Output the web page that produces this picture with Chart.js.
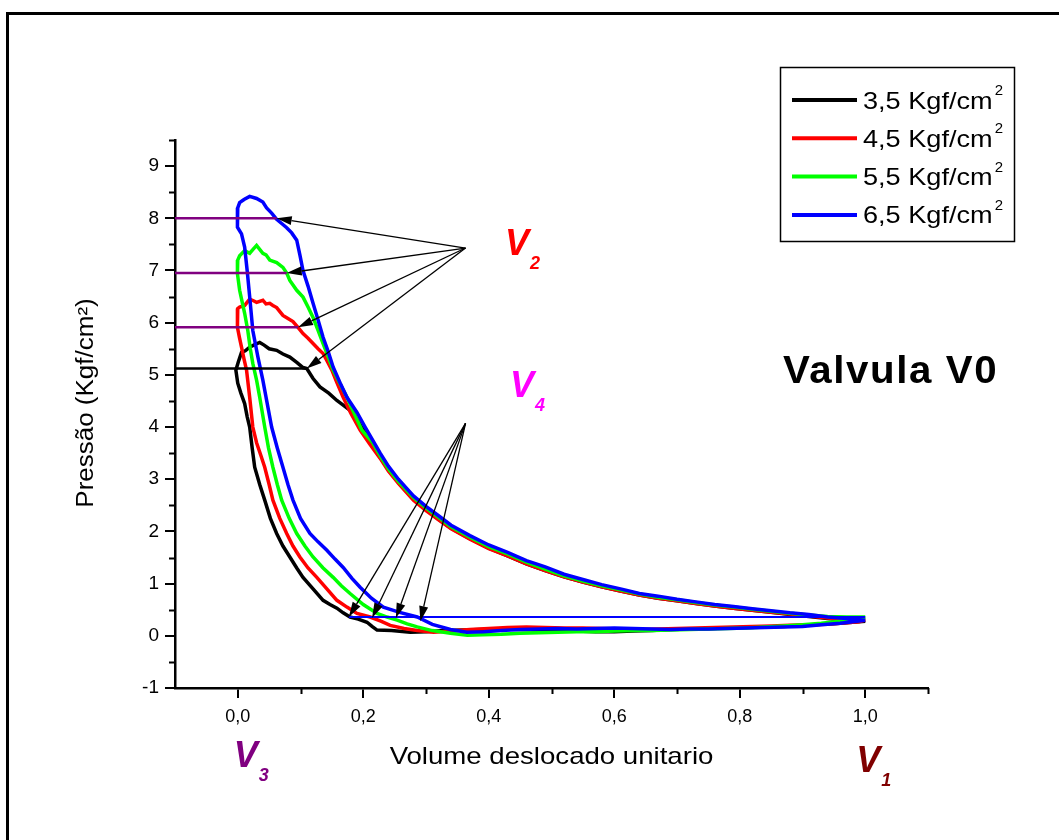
<!DOCTYPE html>
<html>
<head>
<meta charset="utf-8">
<title>Valvula V0</title>
<script src="https://cdn.jsdelivr.net/npm/chart.js@4.4.1/dist/chart.umd.min.js"></script>
<style>
  html, body { margin: 0; padding: 0; background: #fff; }
  #wrap { width: 1059px; height: 840px; }
</style>
</head>
<body>
<div id="wrap"><canvas id="pv" width="1059" height="840"></canvas></div>
<script>
// pressões de descarga ensaiadas
const pressures = ['3,5', '4,5', '5,5', '6,5'];
const colors = ['#000000', '#ff0000', '#00ff00', '#0000ff'];

// ciclos p x V medidos (volume unitario, Kgf/cm2), V1 -> compressão -> descarga -> expansão -> admissão
const loop35 = [[1.0,0.28],[0.97,0.30],[0.94,0.33],[0.91,0.37],[0.88,0.41],[0.85,0.45],[0.82,0.49],[0.79,0.53],[0.76,0.57],[0.73,0.62],[0.70,0.67],[0.67,0.72],[0.64,0.78],[0.61,0.86],[0.58,0.94],[0.55,1.03],[0.52,1.13],[0.49,1.25],[0.46,1.38],[0.43,1.53],[0.40,1.68],[0.37,1.86],[0.34,2.06],[0.32,2.23],[0.30,2.42],[0.28,2.62],[0.256,2.94],[0.24,3.18],[0.227,3.42],[0.215,3.65],[0.2,3.95],[0.19,4.15],[0.179,4.32],[0.168,4.42],[0.158,4.51],[0.145,4.65],[0.131,4.77],[0.12,4.93],[0.11,5.12],[0.104,5.14],[0.094,5.24],[0.083,5.34],[0.072,5.4],[0.062,5.47],[0.05,5.5],[0.042,5.57],[0.035,5.62],[0.027,5.58],[0.019,5.53],[0.012,5.46],[0.006,5.43],[0.001,5.25],[-0.003,5.09],[0.0,4.84],[0.005,4.65],[0.011,4.45],[0.015,4.2],[0.019,4.0],[0.023,3.6],[0.027,3.23],[0.035,2.9],[0.043,2.6],[0.052,2.25],[0.062,1.96],[0.072,1.72],[0.083,1.51],[0.094,1.3],[0.104,1.12],[0.12,0.9],[0.136,0.68],[0.147,0.6],[0.158,0.53],[0.168,0.44],[0.179,0.36],[0.192,0.32],[0.206,0.26],[0.214,0.18],[0.222,0.11],[0.245,0.1],[0.275,0.07],[0.3,0.08],[0.33,0.1],[0.36,0.11],[0.39,0.12],[0.42,0.13],[0.45,0.12],[0.48,0.11],[0.51,0.1],[0.54,0.09],[0.57,0.08],[0.6,0.08],[0.63,0.09],[0.66,0.1],[0.69,0.12],[0.72,0.13],[0.75,0.14],[0.78,0.15],[0.81,0.16],[0.84,0.17],[0.87,0.18],[0.9,0.2],[0.93,0.22],[0.96,0.24],[0.98,0.26],[1.0,0.28]];

const loop45 = [[1.0,0.30],[0.97,0.31],[0.94,0.34],[0.91,0.38],[0.88,0.42],[0.85,0.45],[0.82,0.49],[0.79,0.53],[0.76,0.57],[0.73,0.62],[0.70,0.67],[0.67,0.72],[0.64,0.78],[0.61,0.86],[0.58,0.94],[0.55,1.03],[0.52,1.13],[0.49,1.25],[0.46,1.38],[0.43,1.53],[0.40,1.67],[0.37,1.85],[0.34,2.05],[0.32,2.22],[0.30,2.40],[0.28,2.6],[0.256,2.92],[0.24,3.16],[0.227,3.4],[0.21,3.68],[0.195,3.94],[0.18,4.27],[0.168,4.57],[0.158,4.85],[0.15,5.09],[0.143,5.25],[0.136,5.41],[0.128,5.5],[0.12,5.6],[0.112,5.7],[0.104,5.79],[0.096,5.91],[0.088,6.02],[0.08,6.08],[0.072,6.14],[0.062,6.29],[0.056,6.33],[0.051,6.37],[0.045,6.36],[0.04,6.43],[0.03,6.39],[0.025,6.42],[0.019,6.45],[0.011,6.33],[0.003,6.3],[0.0,6.27],[-0.001,6.1],[0.0,5.91],[0.003,5.7],[0.006,5.53],[0.01,5.3],[0.014,5.09],[0.019,4.57],[0.024,4.0],[0.03,3.7],[0.037,3.45],[0.043,3.23],[0.05,2.9],[0.056,2.6],[0.067,2.25],[0.078,1.96],[0.088,1.72],[0.099,1.51],[0.112,1.3],[0.126,1.12],[0.142,0.9],[0.158,0.68],[0.174,0.55],[0.19,0.43],[0.211,0.36],[0.228,0.28],[0.243,0.2],[0.265,0.14],[0.286,0.1],[0.312,0.07],[0.34,0.09],[0.37,0.12],[0.4,0.14],[0.43,0.16],[0.46,0.17],[0.49,0.16],[0.52,0.15],[0.55,0.15],[0.58,0.14],[0.61,0.13],[0.64,0.12],[0.67,0.13],[0.7,0.14],[0.73,0.15],[0.76,0.16],[0.79,0.17],[0.82,0.18],[0.85,0.19],[0.88,0.2],[0.91,0.21],[0.94,0.22],[0.97,0.25],[0.99,0.27],[1.0,0.30]];

const loop55 = [[1.0,0.36],[0.97,0.36],[0.94,0.37],[0.91,0.40],[0.88,0.43],[0.85,0.47],[0.82,0.51],[0.79,0.55],[0.76,0.59],[0.73,0.64],[0.70,0.69],[0.67,0.74],[0.64,0.80],[0.61,0.88],[0.58,0.96],[0.55,1.05],[0.52,1.15],[0.49,1.28],[0.46,1.41],[0.43,1.57],[0.40,1.71],[0.37,1.89],[0.34,2.09],[0.32,2.27],[0.30,2.45],[0.28,2.65],[0.256,2.96],[0.24,3.2],[0.227,3.45],[0.215,3.7],[0.198,3.94],[0.186,4.25],[0.174,4.57],[0.163,4.83],[0.152,5.09],[0.144,5.35],[0.136,5.6],[0.128,5.85],[0.12,6.1],[0.112,6.3],[0.104,6.49],[0.094,6.62],[0.083,6.81],[0.078,6.95],[0.072,7.06],[0.062,7.15],[0.051,7.2],[0.045,7.3],[0.04,7.33],[0.03,7.48],[0.024,7.4],[0.019,7.33],[0.011,7.38],[0.003,7.28],[0.0,7.2],[-0.001,7.05],[0.0,6.94],[0.003,6.62],[0.007,6.4],[0.011,6.18],[0.016,5.85],[0.02,5.5],[0.024,5.22],[0.03,4.9],[0.035,4.57],[0.043,4.0],[0.049,3.6],[0.056,3.23],[0.063,2.9],[0.07,2.6],[0.082,2.25],[0.094,1.96],[0.107,1.72],[0.12,1.51],[0.136,1.3],[0.152,1.12],[0.165,0.96],[0.179,0.81],[0.2,0.6],[0.222,0.43],[0.238,0.36],[0.254,0.3],[0.27,0.23],[0.286,0.17],[0.31,0.1],[0.339,0.05],[0.366,0.01],[0.39,0.02],[0.42,0.03],[0.45,0.05],[0.48,0.06],[0.51,0.07],[0.54,0.08],[0.57,0.08],[0.6,0.09],[0.63,0.1],[0.66,0.1],[0.69,0.11],[0.72,0.12],[0.75,0.13],[0.78,0.14],[0.81,0.15],[0.84,0.17],[0.87,0.19],[0.9,0.21],[0.93,0.24],[0.96,0.28],[0.98,0.31],[1.0,0.36]];

const loop65 = [[1.0,0.30],[0.97,0.33],[0.94,0.36],[0.91,0.41],[0.88,0.44],[0.85,0.48],[0.82,0.52],[0.79,0.56],[0.76,0.60],[0.73,0.65],[0.70,0.70],[0.67,0.76],[0.64,0.81],[0.61,0.90],[0.58,0.98],[0.55,1.08],[0.52,1.18],[0.49,1.32],[0.46,1.44],[0.43,1.60],[0.40,1.74],[0.37,1.92],[0.34,2.12],[0.32,2.30],[0.30,2.48],[0.28,2.68],[0.256,3.0],[0.24,3.25],[0.227,3.5],[0.215,3.75],[0.203,4.0],[0.19,4.28],[0.174,4.57],[0.163,4.85],[0.152,5.15],[0.144,5.45],[0.136,5.72],[0.128,6.05],[0.12,6.37],[0.112,6.7],[0.104,7.0],[0.099,7.3],[0.094,7.58],[0.086,7.72],[0.078,7.82],[0.07,7.9],[0.062,7.98],[0.054,8.1],[0.046,8.2],[0.04,8.31],[0.03,8.38],[0.019,8.42],[0.01,8.36],[0.003,8.3],[0.0,8.2],[-0.001,8.0],[0.0,7.83],[0.006,7.7],[0.011,7.45],[0.015,7.0],[0.019,6.5],[0.024,5.85],[0.032,5.35],[0.04,4.9],[0.047,4.45],[0.054,4.0],[0.063,3.6],[0.072,3.23],[0.08,2.9],[0.088,2.6],[0.1,2.25],[0.115,1.96],[0.128,1.8],[0.142,1.64],[0.155,1.47],[0.168,1.31],[0.182,1.1],[0.195,0.93],[0.213,0.72],[0.232,0.55],[0.258,0.45],[0.286,0.36],[0.31,0.22],[0.339,0.12],[0.365,0.07],[0.392,0.08],[0.42,0.1],[0.45,0.12],[0.48,0.13],[0.51,0.14],[0.54,0.13],[0.57,0.14],[0.6,0.15],[0.63,0.14],[0.66,0.13],[0.69,0.12],[0.72,0.13],[0.75,0.13],[0.78,0.14],[0.81,0.15],[0.84,0.16],[0.87,0.17],[0.9,0.18],[0.93,0.21],[0.96,0.24],[0.98,0.27],[1.0,0.30]];

const loops = [loop35, loop45, loop55, loop65];

// eixos
const xTicks = [0, 0.2, 0.4, 0.6, 0.8, 1.0];
const xMinor = [0.1, 0.3, 0.5, 0.7, 0.9, 1.1];
const yTicks = [-1, 0, 1, 2, 3, 4, 5, 6, 7, 8, 9];
const yMinor = [-0.5, 0.5, 1.5, 2.5, 3.5, 4.5, 5.5, 6.5, 7.5, 8.5, 9.5];

// pontos V2 (abertura da descarga) e V4 (abertura da admissão) de cada ciclo
const v2X = [0.11, 0.096, 0.078, 0.062];
const v2P = [5.12, 5.91, 6.95, 8.0];
const v4X = [0.177, 0.214, 0.252, 0.291];
const v4P = [0.36, 0.34, 0.34, 0.28];
// pressão de admissão
const suctionP = 0.36;

const FONT = "'Liberation Sans', Arial, Helvetica, sans-serif";
Chart.defaults.color = '#000';
Chart.defaults.font.family = FONT;

const datasets = loops.map((pts, i) => ({
    label: pressures[i] + ' Kgf/cm²',
    unit: pressures[i],
    data: pts.map(([x, y]) => ({x, y})),
    borderColor: colors[i],
    borderWidth: 3.5,
    showLine: true,
    pointRadius: 0,
    tension: 0,
    order: 10 - i // azul por cima
}));

// linhas horizontais em V2
v2X.forEach((x, i) => {
    datasets.push({
        label: '',
        guide: true,
        data: [{x: -0.1, y: v2P[i]}, {x: x, y: v2P[i]}],
        borderColor: i === 0 ? '#000000' : '#800080',
        borderWidth: 2.5,
        showLine: true,
        pointRadius: 0,
        order: 0
    });
});
// linha de admissão a partir do V4
datasets.push({
    label: '',
    guide: true,
    data: [{x: v4X[0], y: suctionP}, {x: 1.0, y: suctionP}],
    borderColor: '#0000ff',
    borderWidth: 2,
    showLine: true,
    pointRadius: 0,
    order: 0
});

function drawArrow(ctx, x0, y0, x1, y1) {
    const a = Math.atan2(y1 - y0, x1 - x0);
    const len = 15, half = 4.5;
    const bx = x1 - len * Math.cos(a), by = y1 - len * Math.sin(a);
    ctx.beginPath();
    ctx.moveTo(x0, y0);
    ctx.lineTo(bx, by);
    ctx.stroke();
    ctx.beginPath();
    ctx.moveTo(x1, y1);
    ctx.lineTo(bx + half * Math.sin(a), by - half * Math.cos(a));
    ctx.lineTo(bx - half * Math.sin(a), by + half * Math.cos(a));
    ctx.closePath();
    ctx.fill();
}

// texto levemente alargado na horizontal; devolve a largura final
function wideText(ctx, text, x, y, sx, align) {
    const w = ctx.measureText(text).width * sx;
    const left = align === 'center' ? x - w / 2 : x;
    ctx.save();
    ctx.translate(left, y);
    ctx.scale(sx, 1);
    ctx.textAlign = 'left';
    ctx.fillText(text, 0, 0);
    ctx.restore();
    return w;
}

// V com índice
function withIndex(ctx, main, idx, x, y, size, color, drop) {
    ctx.fillStyle = color;
    ctx.font = `italic bold ${size}px ${FONT}`;
    ctx.fillText(main, x, y);
    const w = ctx.measureText(main).width;
    ctx.font = `italic bold ${Math.round(size * 0.5)}px ${FONT}`;
    ctx.fillText(idx, x + w + 1, y + drop);
}

const decor = {
    id: 'decor',
    beforeDraw(chart) {
        const ctx = chart.ctx;
        ctx.save();
        ctx.fillStyle = '#fff';
        ctx.fillRect(0, 0, chart.width, chart.height);
        // moldura
        ctx.strokeStyle = '#000';
        ctx.lineWidth = 3;
        ctx.beginPath();
        ctx.moveTo(7.5, chart.height);
        ctx.lineTo(7.5, 13.5);
        ctx.lineTo(chart.width, 13.5);
        ctx.stroke();
        ctx.restore();
    },
    afterDraw(chart) {
        const ctx = chart.ctx;
        const xs = chart.scales.x, ys = chart.scales.y;
        const area = chart.chartArea;
        ctx.save();

        // marcas secundárias
        ctx.strokeStyle = '#000';
        ctx.lineWidth = 2;
        ctx.beginPath();
        xMinor.forEach(v => {
            const px = Math.round(xs.getPixelForValue(v)) + 0.5;
            ctx.moveTo(px, area.bottom);
            ctx.lineTo(px, area.bottom + 6);
        });
        yMinor.forEach(v => {
            const py = Math.round(ys.getPixelForValue(v)) + 0.5;
            ctx.moveTo(area.left, py);
            ctx.lineTo(area.left - 6, py);
        });
        ctx.stroke();

        // títulos dos eixos
        ctx.fillStyle = '#000';
        ctx.textBaseline = 'middle';
        ctx.font = `24px ${FONT}`;
        wideText(ctx, 'Volume deslocado unitario', (area.left + area.right) / 2, 757, 1.15, 'center');
        ctx.save();
        ctx.translate(87, 403);
        ctx.rotate(-Math.PI / 2);
        ctx.font = `23px ${FONT}`;
        wideText(ctx, 'Pressão (Kgf/cm²)', 0, 0, 1.13, 'center');
        ctx.restore();
        ctx.textBaseline = 'alphabetic';

        // setas para V2 e V4
        ctx.lineWidth = 1.3;
        ctx.fillStyle = '#000';
        const o2 = {x: xs.getPixelForValue(0.363), y: ys.getPixelForValue(7.43)};
        const o4 = {x: xs.getPixelForValue(0.363), y: ys.getPixelForValue(4.07)};
        v2X.forEach((x, i) => drawArrow(ctx, o2.x, o2.y, xs.getPixelForValue(x), ys.getPixelForValue(v2P[i])));
        v4X.forEach((x, i) => drawArrow(ctx, o4.x, o4.y, xs.getPixelForValue(x), ys.getPixelForValue(v4P[i])));

        // legenda
        ctx.lineWidth = 1.5;
        ctx.strokeRect(780.5, 67.5, 234, 174);
        chart.data.datasets.filter(d => !d.guide).forEach((d, i) => {
            const y = 100 + i * 38.3;
            ctx.strokeStyle = d.borderColor;
            ctx.lineWidth = 4;
            ctx.beginPath();
            ctx.moveTo(792, y);
            ctx.lineTo(857, y);
            ctx.stroke();
            ctx.fillStyle = '#000';
            ctx.font = `24px ${FONT}`;
            const w = wideText(ctx, d.unit + ' Kgf/cm', 863, y + 8.5, 1.13, 'left');
            ctx.font = `15px ${FONT}`;
            ctx.fillText('2', 863 + w + 2, y - 5);
        });
        ctx.strokeStyle = '#000';

        // identificação da válvula
        ctx.fillStyle = '#000';
        ctx.font = `bold 38px ${FONT}`;
        ctx.letterSpacing = '1.5px';
        wideText(ctx, 'Valvula V0', 783, 383, 1.06, 'left');
        ctx.letterSpacing = '0px';

        // rótulos dos pontos do ciclo
        withIndex(ctx, 'V', '2', 505, 255, 36, '#ff0000', 14);
        withIndex(ctx, 'V', '4', 510, 397, 36, '#ff00ff', 14);
        withIndex(ctx, 'V', '3', xs.getPixelForValue(0) - 4, 767, 36, '#800080', 14);
        withIndex(ctx, 'V', '1', xs.getPixelForValue(1.0) - 9, 772, 36, '#800000', 14);

        ctx.restore();
    }
};

new Chart(document.getElementById('pv'), {
    type: 'scatter',
    data: {datasets},
    options: {
        responsive: false,
        animation: false,
        devicePixelRatio: 1,
        layout: {padding: {top: 140, right: 131, bottom: 0, left: 0}},
        plugins: {
            legend: {display: false},
            tooltip: {enabled: false}
        },
        scales: {
            x: {
                type: 'linear',
                min: -0.1,
                max: 1.1,
                afterBuildTicks: s => { s.ticks = xTicks.map(v => ({value: v})); },
                afterFit: s => { s.height = 152; },
                ticks: {
                    font: {size: 18},
                    padding: 8,
                    maxRotation: 0,
                    callback: v => v.toFixed(1).replace('.', ',')
                },
                grid: {drawOnChartArea: false, drawTicks: true, tickLength: 10, color: '#000', lineWidth: 2},
                border: {color: '#000', width: 2.5},
                title: {display: false}
            },
            y: {
                type: 'linear',
                min: -1,
                max: 9.5,
                afterBuildTicks: s => { s.ticks = yTicks.map(v => ({value: v})); },
                afterFit: s => { s.width = 175; },
                ticks: {
                    font: {size: 19},
                    padding: 6,
                    callback: v => String(v)
                },
                grid: {drawOnChartArea: false, drawTicks: true, tickLength: 10, color: '#000', lineWidth: 2},
                border: {color: '#000', width: 2.5},
                title: {display: false}
            }
        }
    },
    plugins: [decor]
});
</script>
</body>
</html>
